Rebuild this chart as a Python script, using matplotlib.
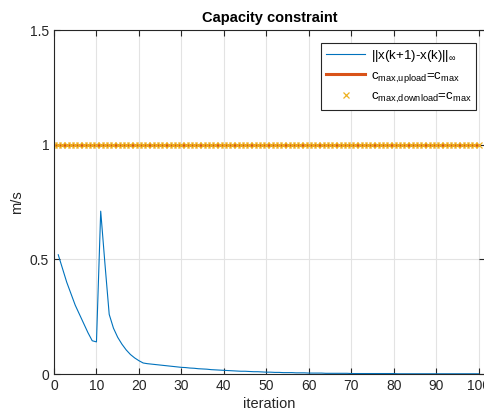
import numpy as np
import matplotlib
matplotlib.use('Agg')
import matplotlib.pyplot as plt

# values
iters = list(range(1, 101))
head = [0.52, 0.46, 0.40, 0.35, 0.30, 0.26, 0.22, 0.18, 0.145, 0.14,
        0.71, 0.48, 0.26, 0.20, 0.16, 0.13, 0.105, 0.085, 0.07, 0.058,
        0.048, 0.045, 0.043, 0.041, 0.039, 0.037, 0.035, 0.033, 0.031, 0.029,
        0.028, 0.026, 0.025, 0.023, 0.022, 0.021, 0.019, 0.018, 0.017, 0.016,
        0.015, 0.014, 0.013, 0.012, 0.012, 0.011, 0.010, 0.010, 0.009, 0.008]
tail = [0.008, 0.007, 0.007, 0.006, 0.006, 0.006, 0.005, 0.005, 0.005, 0.004,
        0.004, 0.004, 0.004, 0.003, 0.003, 0.003, 0.003, 0.003, 0.003, 0.002,
        0.002, 0.002, 0.002, 0.002, 0.002, 0.002, 0.002, 0.002, 0.002, 0.002,
        0.001, 0.001, 0.001, 0.001, 0.001, 0.001, 0.001, 0.001, 0.001, 0.001,
        0.001, 0.001, 0.001, 0.001, 0.001, 0.001, 0.001, 0.001, 0.001, 0.001]
dx_norm = head + tail
cap_iters = list(range(0, 101))
c_up = [1.0] * len(cap_iters)
c_down = [1.0] * len(cap_iters)

plt.rcParams['font.family'] = ['Liberation Sans', 'DejaVu Sans']
plt.rcParams['mathtext.fontset'] = 'custom'
plt.rcParams['mathtext.rm'] = 'Liberation Sans'
plt.rcParams['mathtext.it'] = 'Liberation Sans'
plt.rcParams['mathtext.bf'] = 'Liberation Sans:bold'

fig = plt.figure(figsize=(4.85, 4.17), dpi=100)
ax = fig.add_axes([54/485, 1 - 374/417, (485 - 54)/485, (374 - 30)/417])

ax.plot(iters, dx_norm, color=(0, 0.447, 0.741), lw=0.8,
        label=r'||x(k+1)-x(k)||$_{\infty}$')
ax.plot(cap_iters, c_up, color=(0.85, 0.325, 0.098), lw=2.2,
        label=r'c$_{\mathrm{max{,}upload}}$=c$_{\mathrm{max}}$')
ax.plot(cap_iters, c_down, ls='none', marker='x', ms=4, mew=0.9,
        color=(0.929, 0.694, 0.125),
        label=r'c$_{\mathrm{max{,}download}}$=c$_{\mathrm{max}}$')

ax.set_xlim(0, 101.5)
ax.set_ylim(0, 1.5)
ax.set_xticks(range(0, 101, 10))
ax.set_yticks([0, 0.5, 1, 1.5])
ax.set_yticklabels(['0', '0.5', '1', '1.5'])
ax.grid(True, color='#e3e3e3', lw=0.8)
ax.set_axisbelow(True)
ax.tick_params(direction='in', length=4, labelsize=10, colors='#262626',
               top=True, right=True)
for s in ax.spines.values():
    s.set_color('#262626')
    s.set_linewidth(0.8)

ax.set_title('Capacity constraint', fontsize=10.5, fontweight='bold', pad=6)
ax.set_xlabel('iteration', fontsize=10.5, labelpad=3, color='#262626')
ax.set_ylabel('m/s', fontsize=10.5, labelpad=4, color='#262626')

leg = ax.legend(loc='upper right', fontsize=9.5, frameon=True, fancybox=False,
                edgecolor='#262626', framealpha=1, borderaxespad=0,
                bbox_to_anchor=(476/485, 1 - 43/417), bbox_transform=fig.transFigure,
                handlelength=3.0, handletextpad=0.4, borderpad=0.35,
                labelspacing=0.45)
leg.get_frame().set_linewidth(0.8)

fig.savefig('out.png', dpi=100)
